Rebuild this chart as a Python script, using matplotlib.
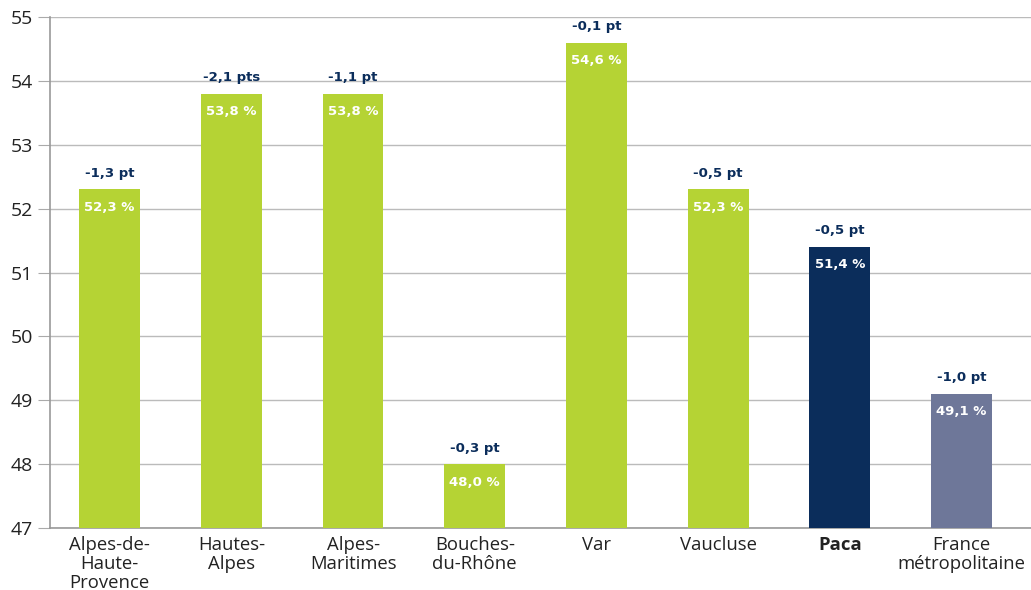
import numpy as np
import matplotlib.pyplot as plt

regions = ['Alpes-de-\nHaute-\nProvence', 'Hautes-\nAlpes', 'Alpes-\nMaritimes',
           'Bouches-\ndu-Rhône', 'Var', 'Vaucluse', 'Paca', 'France\nmétropolitaine']
values = [52.3, 53.8, 53.8, 48.0, 54.6, 52.3, 51.4, 49.1]
changes = ['-1,3 pt', '-2,1 pts', '-1,1 pt', '-0,3 pt', '-0,1 pt', '-0,5 pt', '-0,5 pt', '-1,0 pt']
colors = ['#b5d334'] * 6 + ['#0b2d5b', '#6e7799']

plt.rcParams['font.family'] = ['Open Sans', 'DejaVu Sans']

fig = plt.figure(figsize=(10.31, 5.90), dpi=100)
ax = fig.add_axes([50/1031, 1-528/590, 1-50/1031, (528-17)/590])

x = np.arange(len(values))
ax.bar(x, np.array(values) - 47, bottom=47, width=0.5, color=colors, zorder=3)

# value inside the bar, change above it
for xi, v, c in zip(x, values, changes):
    lab = ('%.1f %%' % v).replace('.', ',')
    ax.text(xi, v - 0.18, lab, ha='center', va='top', color='white',
            fontsize=9.5, fontweight='bold', family='DejaVu Sans', zorder=4)
    ax.text(xi, v + 0.15, c, ha='center', va='bottom', color='#0b2d5b',
            fontsize=9.5, fontweight='bold', family='DejaVu Sans', zorder=4)

ax.set_ylim(47, 55)
ax.set_xlim(-0.49, 7.57)
ax.set_yticks(range(47, 56))
ax.set_xticks(x)
ax.set_xticklabels(regions, fontsize=13.3, color='#222222', linespacing=1.05)
ax.get_xticklabels()[6].set_fontweight('bold')
ax.tick_params(axis='y', labelsize=14, colors='#222222', length=9, color='#aaaaaa', pad=3)
ax.tick_params(axis='x', length=0, pad=6)
ax.grid(axis='y', color='#bbbbbb', linewidth=1, zorder=0)
for s in ['top', 'right']:
    ax.spines[s].set_visible(False)
ax.spines['left'].set_color('#999999')
ax.spines['bottom'].set_color('#999999')
ax.spines['left'].set_linewidth(1.2)
ax.spines['bottom'].set_linewidth(1.2)

fig.savefig('out.png', dpi=100)
